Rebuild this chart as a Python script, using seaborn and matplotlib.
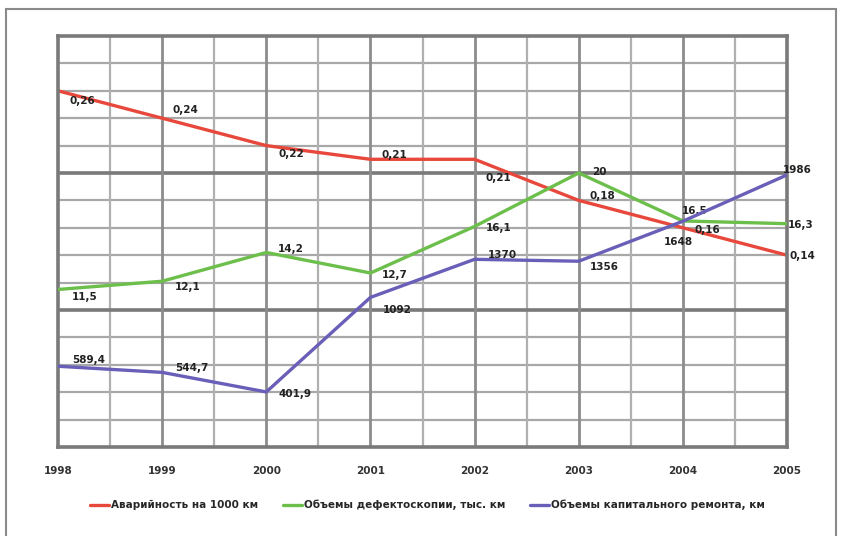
import numpy as np
import pandas as pd
import matplotlib
matplotlib.use("Agg")
import matplotlib.pyplot as plt
import seaborn as sns
from matplotlib.patches import Rectangle

# ---- data ----
years = [1998, 1999, 2000, 2001, 2002, 2003, 2004, 2005]
accident_rate = [0.26, 0.24, 0.22, 0.21, 0.21, 0.18, 0.16, 0.14]
flaw_detection = [11.5, 12.1, 14.2, 12.7, 16.1, 20, 16.5, 16.3]
overhaul = [589.4, 544.7, 401.9, 1092, 1370, 1356, 1648, 1986]
series_names = ["Аварийность на 1000 км",
                "Объемы дефектоскопии, тыс. км",
                "Объемы капитального ремонта, км"]

# label offsets (pixels) relative to each point
off_red = [(12, -10), (10, 8), (12, -8), (11, 4), (11, -19), (11, 4), (12, -2), (2, -1)]
off_green = [(14, -8), (13, -6), (12, 3), (11, -2), (11, -2), (13, 1), (-1, 10), (1, -1)]
off_purple = [(14, 6), (13, 4), (12, -2), (12, -13), (13, 4), (11, -6), (-19, -21), (-4, 5)]

sns.set_style("white")
plt.rcParams['font.family'] = ['DejaVu Sans']

W, H = 843, 536
fig = plt.figure(figsize=(W / 100, H / 100), dpi=100)

# outer frame of the picture
fig.patches.append(Rectangle((6 / W, -0.05), (836 - 6) / W, 1 - 9 / H + 0.05,
                             transform=fig.transFigure, fill=False,
                             edgecolor="#8a8a8a", linewidth=1.5))

L, R, T, B = 58, 787, 36, 447
ax = fig.add_axes([L / W, 1 - B / H, (R - L) / W, (B - T) / H])
ax2 = ax.twinx()
ax3 = ax.twinx()

red = "#e8483c"
green = "#6dbf4b"
purple = "#6a5fb8"

df = pd.DataFrame({"year": years, "a": accident_rate, "f": flaw_detection, "o": overhaul})
sns.lineplot(data=df, x="year", y="a", ax=ax, color=red, linewidth=2.4, label=series_names[0], legend=False)
sns.lineplot(data=df, x="year", y="f", ax=ax2, color=green, linewidth=2.4, label=series_names[1], legend=False)
sns.lineplot(data=df, x="year", y="o", ax=ax3, color=purple, linewidth=2.4, label=series_names[2], legend=False)

ax.set_xlim(1998, 2005)
ax.set_ylim(0, 0.3)
ax2.set_ylim(0, 30)
ax3.set_ylim(0, 3000)

# grid
ax.set_xticks(years)
ax.set_yticks([0, 0.1, 0.2, 0.3])
ax.grid(False)
for yv in np.arange(0.02, 0.3, 0.02):
    ax.axhline(yv, color="#a8a8a8", linewidth=1.6, zorder=0)
for yv in [0.1, 0.2]:
    ax.axhline(yv, color="#7a7a7a", linewidth=2.6, zorder=0.5)
for xv in np.arange(1998.5, 2005, 1.0):
    ax.axvline(xv, color="#b0b0b0", linewidth=1.6, zorder=0)
for xv in years[1:-1]:
    ax.axvline(xv, color="#8c8c8c", linewidth=2.0, zorder=0.5)

for a in (ax, ax2, ax3):
    for s in a.spines.values():
        s.set_visible(False)
    a.set_xlabel("")
    a.set_ylabel("")
    a.tick_params(axis="both", which="both", length=0)
    a.set_yticklabels([])
ax2.set_yticks([])
ax3.set_yticks([])
for s in ["top", "bottom", "left", "right"]:
    ax.spines[s].set_visible(True)
    ax.spines[s].set_color("#7a7a7a")
    ax.spines[s].set_linewidth(2.6)

ax.set_xticklabels([str(y) for y in years], fontsize=7.5, fontweight="bold", color="#333333")
ax.tick_params(axis="x", which="major", pad=14)

def fmt(v):
    return f"{v:g}".replace(".", ",")

def put_labels(a, vals, offs):
    for x, v, (dx, dy) in zip(years, vals, offs):
        a.annotate(fmt(v), (x, v), xytext=(dx, dy), textcoords="offset pixels",
                   ha="left", va="center", fontsize=7.5, fontweight="bold",
                   color="#222222", annotation_clip=False, zorder=5)

put_labels(ax, accident_rate, off_red)
put_labels(ax2, flaw_detection, off_green)
put_labels(ax3, overhaul, off_purple)

handles = ax.get_lines()[:1] + ax2.get_lines()[:1] + ax3.get_lines()[:1]
fig.legend(handles, series_names, loc="center", bbox_to_anchor=(0.507, 1 - 505 / H),
           ncol=3, frameon=False, handlelength=1.8, handletextpad=0.2,
           columnspacing=2.4, prop={"weight": "bold", "size": 7.5})

fig.savefig("out.png", dpi=100)
